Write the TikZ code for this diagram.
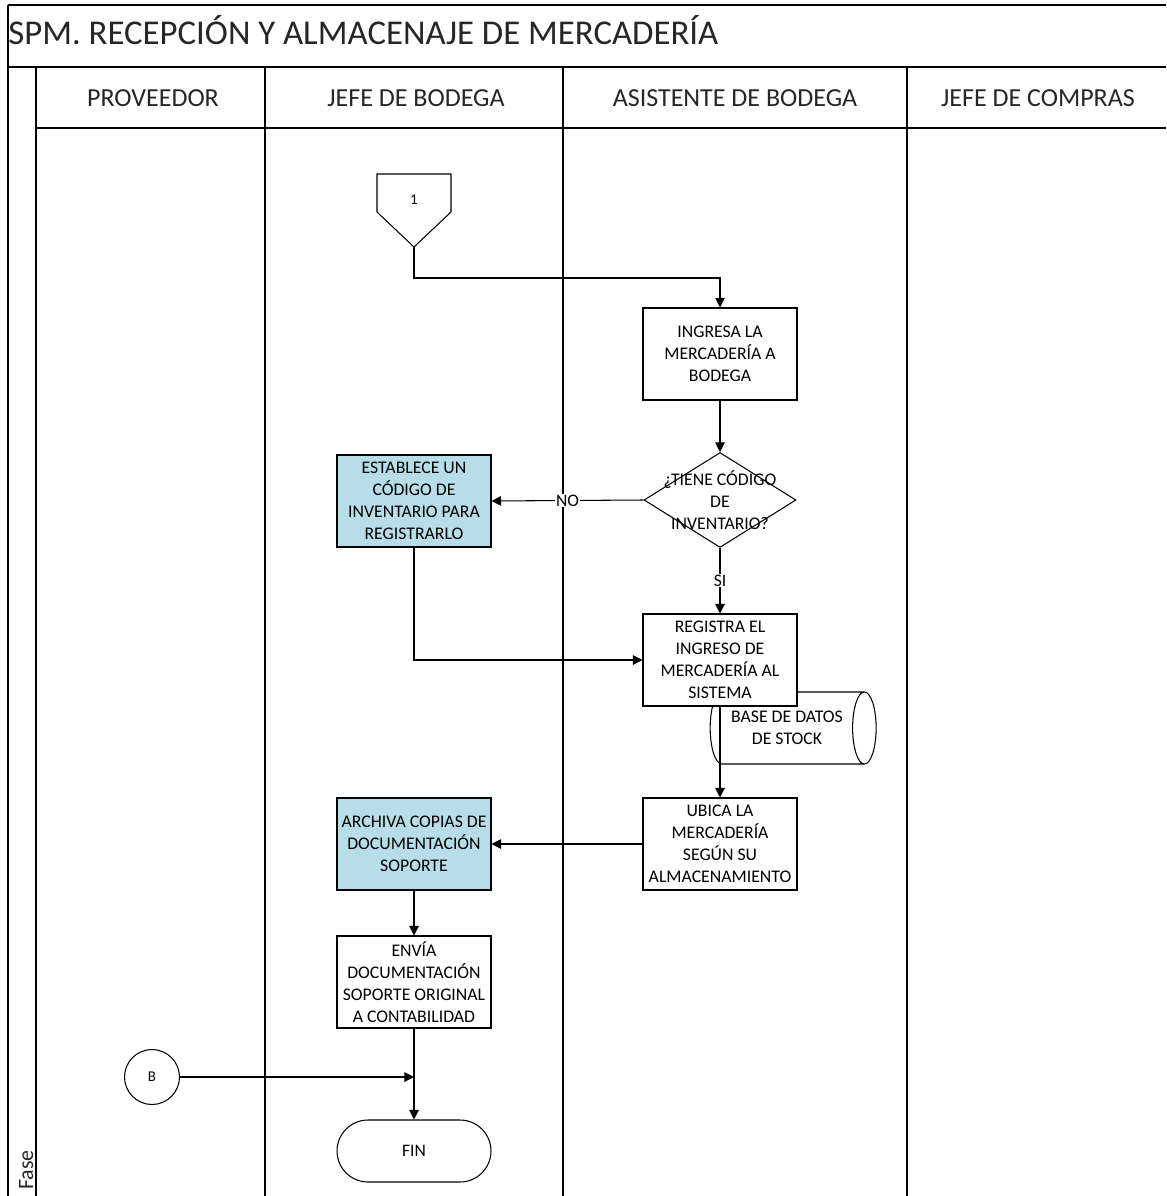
\documentclass[tikz,border=0pt]{standalone}
\usepackage{fontspec}
\setmainfont{Carlito}
\usetikzlibrary{shapes.geometric,arrows.meta}
\definecolor{azulclaro}{HTML}{B7DDE8}
\begin{document}
\begin{tikzpicture}[x=0.02cm,y=-0.02cm,
  caja/.style={draw,fill=white,line width=0.6pt,minimum width=3.08cm,minimum height=1.84cm,align=center,inner sep=1pt,font=\fontsize{10.1}{12.5}\selectfont},
  cajaazul/.style={caja,fill=azulclaro},
  decision/.style={draw,diamond,fill=white,line width=0.6pt,minimum width=3.04cm,minimum height=1.9cm,inner sep=0pt},
  texto/.style={align=center,inner sep=0pt,font=\fontsize{10.1}{12.5}\selectfont},
  etiq/.style={fill=white,inner sep=0.5pt,font=\fontsize{10}{12}\selectfont},
  flecha/.style={-{Triangle[length=5.5pt,width=5.5pt]},line width=0.6pt},
  carril/.style={line width=0.8pt},
  encab/.style={anchor=base,inner sep=0pt,text=black!85,font=\fontsize{14.8}{17}\selectfont}]
\useasboundingbox (0,0) rectangle (1166,1196);
\draw[carril] (8,5) -- (1166,5);
\draw[carril] (8,67) -- (1166,67);
\draw[carril] (36,128) -- (1166,128);
\draw[carril] (8,5) -- (8,1196);
\foreach \x in {36,265,563,907} \draw[carril] (\x,67) -- (\x,1196);
\node[anchor=base west,inner sep=0pt,text=black!85,font=\fontsize{19.8}{24}\selectfont] (titulo) at (8,45) {SPM. RECEPCIÓN Y ALMACENAJE DE MERCADERÍA};
\node[encab] (proveedor) at (153,107) {PROVEEDOR};
\node[encab] (jefebodega) at (416,107) {JEFE DE BODEGA};
\node[encab] (asistente) at (735,107) {ASISTENTE DE BODEGA};
\node[encab] (jefecompras) at (1038,107) {JEFE DE COMPRAS};
\node[rotate=90,anchor=base west,inner sep=0pt,text=black!85,font=\fontsize{12.5}{15}\selectfont] (fase) at (33,1190) {Fase};
\draw[line width=0.6pt] (377,174) -- (451,174) -- (451,212) -- (414,247) -- (377,212) -- cycle;
\coordinate (unopunta) at (414,247);
\node[font=\fontsize{8.5}{10}\selectfont] (uno) at (414,200) {1};
\node[cylinder,draw,line width=0.6pt,aspect=0.7,minimum height=3.32cm,minimum width=1.44cm,texto] (base) at (787,728) {BASE DE DATOS\\DE STOCK};
\node[caja] (ingresa) at (720,354) {INGRESA LA\\MERCADERÍA A\\BODEGA};
\node[decision] (tiene) at (720,500) {};
\node[texto] (tienetxt) at (tiene) {¿TIENE CÓDIGO\\DE\\INVENTARIO?};
\node[cajaazul] (establece) at (414,501) {ESTABLECE UN\\CÓDIGO DE\\INVENTARIO PARA\\REGISTRARLO};
\node[caja] (registra) at (720,660) {REGISTRA EL\\INGRESO DE\\MERCADERÍA AL\\SISTEMA};
\node[caja] (ubica) at (720,844) {UBICA LA\\MERCADERÍA\\SEGÚN SU\\ALMACENAMIENTO};
\node[cajaazul] (archiva) at (414,844) {ARCHIVA COPIAS DE\\DOCUMENTACIÓN\\SOPORTE};
\node[caja] (envia) at (414,982) {ENVÍA\\DOCUMENTACIÓN\\SOPORTE ORIGINAL\\A CONTABILIDAD};
\node[draw,line width=0.6pt,rounded corners=0.62cm,minimum width=3.08cm,minimum height=1.24cm,font=\fontsize{10}{12}\selectfont] (fin) at (414,1151) {FIN};
\node[draw,circle,line width=0.6pt,minimum size=1.1cm,inner sep=0pt,font=\fontsize{8.5}{10}\selectfont] (b) at (152,1077) {B};
\draw[flecha] (unopunta) -- ++(0,31) -| (ingresa.north);
\draw[flecha] (ingresa) -- (tiene);
\draw[flecha] (tiene.west) -- node[etiq] {NO} (establece.east);
\draw[flecha] (tiene.south) -- node[etiq] {SI} (registra.north);
\draw[flecha] (establece.south) |- (registra.west);
\draw[flecha] (registra) -- (ubica);
\draw[flecha] (ubica) -- (archiva);
\draw[flecha] (archiva) -- (envia);
\draw[flecha] (envia) -- (fin);
\draw[flecha] (b) -- (b -| fin.north);
\end{tikzpicture}
\end{document}
